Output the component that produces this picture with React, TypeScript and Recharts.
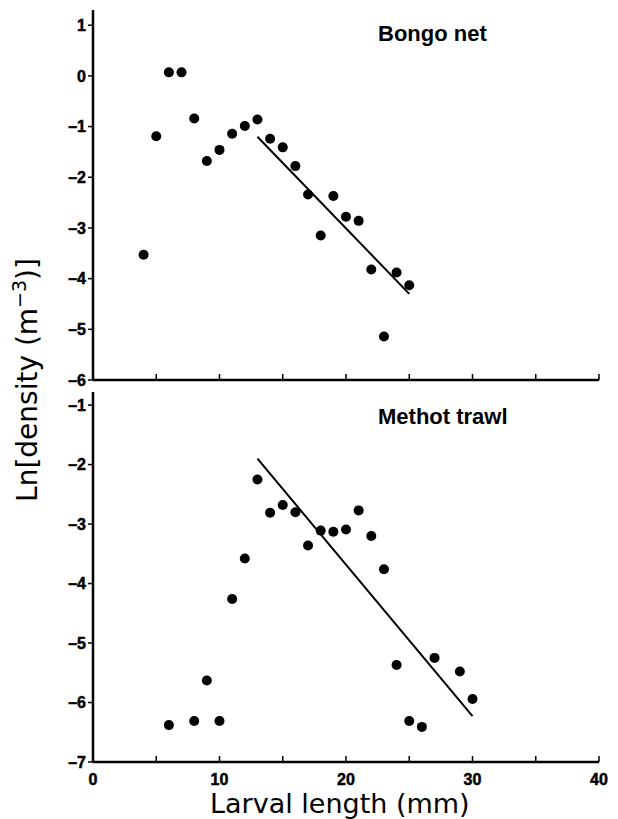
import React from 'react';
import { ScatterChart, Scatter, XAxis, YAxis } from 'recharts';

// shared x axis (larval length, mm)
const lengthTicks = [0, 5, 10, 15, 20, 25, 30, 35, 40];

// Bongo net panel
const bongoLength = [4, 5, 6, 7, 8, 9, 10, 11, 12, 13, 14, 15, 16, 17, 18, 19, 20, 21, 22, 23, 24, 25];
const bongoLnDensity = [-3.53, -1.19, 0.07, 0.07, -0.84, -1.68, -1.46, -1.14, -0.99, -0.86, -1.24, -1.41, -1.78, -2.34, -3.15, -2.37, -2.78, -2.86, -3.82, -5.14, -3.88, -4.13];
const bongoFitLength = [13, 25];
const bongoFitLnDensity = [-1.2, -4.3];
const bongoTicks = [-6, -5, -4, -3, -2, -1, 0, 1];

// Methot trawl panel
const methotLength = [6, 8, 9, 10, 11, 12, 13, 14, 15, 16, 17, 18, 19, 20, 21, 22, 23, 24, 25, 26, 27, 29, 30];
const methotLnDensity = [-6.38, -6.31, -5.63, -6.31, -4.26, -3.58, -2.25, -2.81, -2.68, -2.8, -3.36, -3.11, -3.13, -3.09, -2.77, -3.2, -3.76, -5.37, -6.31, -6.41, -5.25, -5.48, -5.94];
const methotFitLength = [13, 30];
const methotFitLnDensity = [-1.9, -6.23];
const methotTicks = [-7, -6, -5, -4, -3, -2, -1];

const tickFont = '"Liberation Sans", Arial, sans-serif';
const labelFont = '"DejaVu Sans", sans-serif';

const toPoints = (xs: number[], ys: number[]) => xs.map((x, i) => ({ x, y: ys[i] }));

const dot = (p: any) => <circle cx={p.cx} cy={p.cy} r={5} fill="#000" />;
const noDot = () => <g />;

const xTick = (p: any, showLabel: boolean) => {
    if (!showLabel || p.payload.value % 10 !== 0) return <g />;
    return (
        <text x={p.x} y={p.y} dy="0.71em" textAnchor="middle" fill="#000" stroke="#000" strokeWidth={0.5} fontSize={16} fontWeight="bold" fontFamily={tickFont}>
            {p.payload.value}
        </text>
    );
};

const yTick = (p: any) => (
    <text x={p.x} y={p.y} dy="0.36em" textAnchor="end" fill="#000" stroke="#000" strokeWidth={0.5} fontSize={16} fontWeight="bold" fontFamily={tickFont}>
        {String(p.payload.value).replace('-', '\u2013')}
    </text>
);

const axisLine = { stroke: '#000', strokeWidth: 2.5 };
const tickLine = { stroke: '#000', strokeWidth: 1.5 };

interface PanelProps {
    top: number;
    height: number;
    marginTop: number;
    xAxisHeight: number;
    domain: [number, number];
    yTicks: number[];
    points: { x: number; y: number }[];
    fit: { x: number; y: number }[];
    showXLabels: boolean;
}

function Panel({ top, height, marginTop, xAxisHeight, domain, yTicks, points, fit, showXLabels }: PanelProps) {
    return (
        <div style={{ position: 'absolute', left: 0, top }}>
            <ScatterChart width={618} height={height} margin={{ top: marginTop, right: 19, left: 0, bottom: 0 }}>
                <XAxis
                    type="number"
                    dataKey="x"
                    domain={[0, 40]}
                    ticks={lengthTicks}
                    height={xAxisHeight}
                    axisLine={axisLine}
                    tickLine={tickLine}
                    tickSize={-6}
                    tickMargin={18}
                    tick={(p: any) => xTick(p, showXLabels)}
                    interval={0}
                />
                <YAxis
                    type="number"
                    dataKey="y"
                    width={93}
                    domain={domain}
                    ticks={yTicks}
                    interval={0}
                    axisLine={axisLine}
                    tickLine={tickLine}
                    tickSize={5}
                    tickMargin={2}
                    tick={yTick}
                />
                <Scatter data={points} shape={dot} isAnimationActive={false} />
                <Scatter data={fit} shape={noDot} line={{ stroke: '#000', strokeWidth: 2 }} isAnimationActive={false} />
            </ScatterChart>
        </div>
    );
}

const titleStyle: React.CSSProperties = {
    position: 'absolute',
    left: 378,
    fontFamily: tickFont,
    fontWeight: 'bold',
    fontSize: 22,
    lineHeight: '26px',
    color: '#000',
    whiteSpace: 'nowrap',
};

export default function App() {
    return (
        <div style={{ position: 'absolute', left: 0, top: 0, width: 618, height: 819, background: '#fff', overflow: 'hidden' }}>
            <Panel
                top={0}
                height={392}
                marginTop={10}
                xAxisHeight={12}
                domain={[-6, 1.3]}
                yTicks={bongoTicks}
                points={toPoints(bongoLength, bongoLnDensity)}
                fit={toPoints(bongoFitLength, bongoFitLnDensity)}
                showXLabels={false}
            />
            <Panel
                top={380}
                height={439}
                marginTop={12}
                xAxisHeight={57}
                domain={[-7, -0.78]}
                yTicks={methotTicks}
                points={toPoints(methotLength, methotLnDensity)}
                fit={toPoints(methotFitLength, methotFitLnDensity)}
                showXLabels={true}
            />
            <div style={{ ...titleStyle, top: 21 }}>Bongo net</div>
            <div style={{ ...titleStyle, top: 404 }}>Methot trawl</div>
            <svg width={60} height={819} style={{ position: 'absolute', left: 0, top: 0 }}>
                <text x={0} y={0} transform="translate(37, 380) rotate(-90)" textAnchor="middle" fontFamily={labelFont} fontSize={28} fill="#000">
                    Ln[density (m<tspan dy={-11} fontSize={19}>{'\u22123'}</tspan><tspan dy={11}>)]</tspan>
                </text>
            </svg>
            <div style={{ position: 'absolute', left: 210, top: 790, fontFamily: labelFont, fontSize: 27, lineHeight: '27px', color: '#000', whiteSpace: 'nowrap' }}>
                Larval length (mm)
            </div>
        </div>
    );
}
